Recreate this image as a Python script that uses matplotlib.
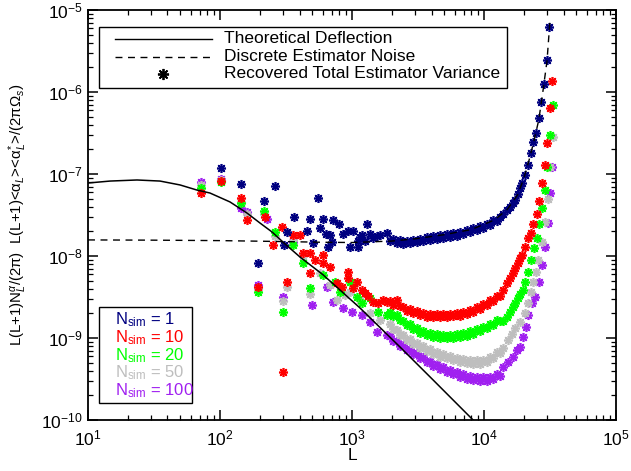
import matplotlib
matplotlib.use('Agg')
import matplotlib.pyplot as plt
from matplotlib.lines import Line2D
from matplotlib.patches import Rectangle
from matplotlib.ticker import NullFormatter

plt.rcParams['font.family'] = ['Liberation Sans', 'DejaVu Sans']
plt.rcParams['mathtext.fontset'] = 'custom'
plt.rcParams['mathtext.rm'] = 'Liberation Sans'
plt.rcParams['mathtext.it'] = 'Liberation Sans:italic'
plt.rcParams['mathtext.sf'] = 'Liberation Sans'

# theory curve and discrete noise
theory_L = [10, 14.7, 23.5, 35.1, 49.8, 66.6, 83.9, 119, 160, 201, 248, 311, 404, 603, 1150, 2310, 4110, 8260, 9330]
theory_val = [7.76e-8, 8.2e-8, 8.45e-8, 8.2e-8, 7.35e-8, 6.38e-8, 5.86e-8, 4.56e-8, 3.34e-8, 2.52e-8,
              1.96e-8, 1.40e-8, 9.7e-9, 5.9e-9, 2.32e-9, 7.76e-10, 3.08e-10, 1.0e-10, 8.2e-11]

noise_L = [10, 30, 100, 300, 600, 1000, 2000, 3000, 5000, 8000, 12000, 15000, 18000, 20000,
           22000, 24000, 26000, 28000, 30000, 31600]
noise_val = [1.57e-8, 1.56e-8, 1.54e-8, 1.50e-8, 1.47e-8, 1.46e-8, 1.52e-8, 1.62e-8, 1.82e-8, 2.1e-8,
             2.75e-8, 3.7e-8, 5.6e-8, 8.8e-8, 1.5e-7, 2.6e-7, 4.6e-7, 1.05e-6, 2.4e-6, 7.5e-6]

# shared L bins of the smooth middle part
band_L = [1940, 2050, 2190, 2310, 2440, 2610, 2750, 2900, 3100, 3270, 3450, 3700, 3900, 4110, 4400,
          4640, 4890, 5250, 5520, 5820, 6240, 6580, 6930, 7430, 7830, 8260, 8850, 9330, 9820,
          10540, 11100, 11700, 12540, 13200]

# N_sim = 1
n1_lo_L = [102, 144, 194, 215, 261, 305, 322, 364, 456, 481, 507, 553, 572, 603, 635, 658, 681, 705,
           718, 797, 855, 934, 967, 1018, 1110, 1110, 1150, 1191, 1254, 1300, 1368, 1442, 1545, 1629, 1841]
n1_lo = [1.18e-7, 7.55e-8, 8.2e-9, 4.69e-8, 7.14e-8, 1.36e-8, 1.96e-8, 2.99e-8, 2.02e-8, 2.83e-8,
         1.44e-8, 5.1e-8, 2.19e-8, 2.83e-8, 1.85e-8, 1.29e-8, 1.80e-8, 1.48e-8, 2.75e-8, 2.45e-8,
         1.85e-8, 2.02e-8, 1.29e-8, 2.02e-8, 1.52e-8, 1.29e-8, 1.71e-8, 1.80e-8, 1.52e-8, 2.45e-8,
         1.85e-8, 1.66e-8, 1.75e-8, 1.80e-8, 1.91e-8]
n1_band = [1.52e-8, 1.61e-8, 1.44e-8, 1.57e-8, 1.40e-8, 1.52e-8, 1.44e-8, 1.57e-8, 1.48e-8, 1.61e-8,
           1.52e-8, 1.71e-8, 1.57e-8, 1.75e-8, 1.61e-8, 1.80e-8, 1.66e-8, 1.85e-8, 1.71e-8, 1.91e-8,
           1.75e-8, 1.96e-8, 1.85e-8, 2.07e-8, 1.96e-8, 2.19e-8, 2.07e-8, 2.32e-8, 2.19e-8, 2.45e-8,
           2.39e-8, 2.75e-8, 2.67e-8, 2.99e-8]
n1_hi_L = [13900, 14900, 15700, 16600, 17200, 18100, 18750, 19400, 20450, 21500, 22700, 23500,
           24800, 26100, 27000, 28500, 30000, 31100]
n1_hi = [3.25e-8, 3.64e-8, 3.96e-8, 4.43e-8, 4.82e-8, 5.7e-8, 6.75e-8, 7.76e-8, 9.7e-8, 1.29e-7,
         1.80e-7, 2.45e-7, 3.16e-7, 4.82e-7, 7.55e-7, 1.25e-6, 2.45e-6, 6.2e-6]

# N_sim = 10
n10_lo_L = [72, 102, 144, 160, 194, 219, 252, 295, 300, 322, 357, 404, 425, 481, 481, 525, 603, 603,
            681, 769, 840, 934, 934, 1018, 1092, 1191, 1254, 1322, 1442, 1573, 1718, 1841]
n10_lo = [5.86e-8, 8.2e-8, 5.1e-8, 2.75e-8, 4.19e-9, 2.99e-8, 1.36e-8, 2.26e-8, 3.85e-10, 4.82e-9,
          1.80e-8, 1.80e-8, 1.09e-8, 1.09e-8, 6.2e-9, 9.0e-9, 1.03e-8, 8.2e-9, 7.35e-9, 4.69e-9,
          4.19e-9, 6.38e-9, 5.4e-9, 4.07e-9, 4.82e-9, 3.85e-9, 3.54e-9, 3.25e-9, 2.75e-9, 2.67e-9,
          2.91e-9, 2.75e-9]
n10_band = [2.83e-9, 2.52e-9, 2.91e-9, 2.45e-9, 2.39e-9, 2.13e-9, 2.26e-9, 2.02e-9, 2.13e-9, 1.91e-9,
            2.02e-9, 1.80e-9, 1.96e-9, 1.80e-9, 1.96e-9, 1.80e-9, 1.96e-9, 1.80e-9, 1.96e-9, 1.85e-9,
            2.02e-9, 1.85e-9, 2.07e-9, 1.96e-9, 2.19e-9, 2.07e-9, 2.39e-9, 2.26e-9, 2.60e-9, 2.52e-9,
            2.91e-9, 2.83e-9, 3.25e-9, 3.25e-9]
n10_hi_L = [13900, 14900, 15700, 16600, 17200, 18100, 18750, 19400, 20450, 21500, 22700, 23500,
            25200, 26100, 27500, 29000, 30000, 31600, 32700]
n10_hi = [3.85e-9, 4.69e-9, 5.4e-9, 6.2e-9, 7.14e-9, 8.2e-9, 9.45e-9, 1.03e-8, 1.29e-8, 1.66e-8,
          1.91e-8, 2.45e-8, 3.25e-8, 4.7e-8, 7.76e-8, 1.29e-7, 2.39e-7, 6.38e-7, 1.36e-6]

# N_sim = 20
n20_lo_L = [72, 102, 144, 194, 215, 261, 300, 357, 425, 481, 603, 743, 811, 967, 1092, 1191, 1368, 1573, 1841]
n20_lo = [6.75e-8, 7.98e-8, 4.43e-8, 3.64e-9, 3.54e-8, 1.96e-8, 2.07e-9, 1.36e-8, 8.2e-9, 4.07e-9,
          5.86e-9, 4.82e-9, 3.64e-9, 4.82e-9, 3.16e-9, 2.67e-9, 3.08e-9, 2.07e-9, 1.91e-9]
n20_band = [2.07e-9, 1.85e-9, 1.91e-9, 1.66e-9, 1.61e-9, 1.44e-9, 1.48e-9, 1.29e-9, 1.32e-9, 1.15e-9,
            1.22e-9, 1.09e-9, 1.15e-9, 1.03e-9, 1.12e-9, 1.0e-9, 1.09e-9, 1.0e-9, 1.09e-9, 1.0e-9,
            1.12e-9, 1.03e-9, 1.15e-9, 1.06e-9, 1.22e-9, 1.12e-9, 1.29e-9, 1.22e-9, 1.36e-9, 1.32e-9,
            1.48e-9, 1.44e-9, 1.66e-9, 1.61e-9]
n20_hi_L = [13900, 14900, 15700, 16600, 17200, 18100, 18750, 19750, 20450, 21500, 22700, 23900,
            25200, 26100, 27500, 29000, 30000, 31600, 33300]
n20_hi = [1.61e-9, 1.80e-9, 2.07e-9, 2.39e-9, 2.67e-9, 3.08e-9, 3.44e-9, 3.85e-9, 4.82e-9, 6.38e-9,
          8.9e-9, 1.25e-8, 1.66e-8, 2.45e-8, 3.85e-8, 6.38e-8, 1.22e-7, 2.99e-7, 6.94e-7]

# N_sim = 50
n50_lo_L = [72, 102, 144, 160, 194, 215, 261, 300, 322, 357, 425, 481, 572, 681, 769, 885, 967, 1150, 1368, 1629]
n50_lo = [7.35e-8, 8.45e-8, 4.56e-8, 3.25e-8, 4.0e-9, 3.25e-8, 1.75e-8, 2.83e-9, 4.19e-9, 1.57e-8,
          1.0e-8, 3.44e-9, 6.2e-9, 4.43e-9, 2.91e-9, 3.34e-9, 3.64e-9, 2.91e-9, 2.02e-9, 1.66e-9]
n50_band = [1.48e-9, 1.29e-9, 1.25e-9, 1.09e-9, 1.09e-9, 9.45e-10, 9.72e-10, 8.45e-10, 8.69e-10, 7.55e-10,
            7.98e-10, 6.94e-10, 7.35e-10, 6.38e-10, 6.75e-10, 5.86e-10, 6.38e-10, 5.7e-10, 6.03e-10, 5.4e-10,
            5.7e-10, 5.1e-10, 5.54e-10, 4.95e-10, 5.4e-10, 4.82e-10, 5.4e-10, 4.82e-10, 5.4e-10, 5.1e-10,
            5.86e-10, 5.7e-10, 6.75e-10, 6.56e-10]
n50_hi_L = [13900, 15200, 16300, 17200, 18750, 20450, 21500, 22700, 23500, 24800, 25700, 27500,
            29000, 30500, 31600, 33300]
n50_hi = [7.55e-10, 9.45e-10, 1.12e-9, 1.32e-9, 1.57e-9, 2.02e-9, 2.67e-9, 3.64e-9, 4.82e-9, 6.38e-9,
          8.9e-9, 1.48e-8, 2.6e-8, 4.95e-8, 1.22e-7, 2.83e-7]

# N_sim = 100
n100_lo_L = [72, 102, 144, 160, 194, 227, 300, 357, 498, 647, 718, 855, 1000, 1191, 1368, 1545, 1841]
n100_lo = [7.98e-8, 8.6e-8, 3.85e-8, 3.44e-8, 4.43e-9, 2.83e-8, 3.16e-9, 1.48e-8, 2.52e-9, 4.19e-9,
           2.75e-9, 2.32e-9, 2.07e-9, 1.91e-9, 1.57e-9, 1.18e-9, 1.09e-9]
n100_band = [1.06e-9, 9.19e-10, 9.19e-10, 7.98e-10, 8.22e-10, 7.14e-10, 7.35e-10, 6.38e-10, 6.56e-10, 5.7e-10,
             5.86e-10, 5.1e-10, 5.25e-10, 4.56e-10, 4.82e-10, 4.19e-10, 4.43e-10, 3.85e-10, 4.07e-10, 3.64e-10,
             3.85e-10, 3.34e-10, 3.64e-10, 3.16e-10, 3.44e-10, 3.08e-10, 3.34e-10, 2.99e-10, 3.34e-10, 2.99e-10,
             3.34e-10, 3.16e-10, 3.64e-10, 3.44e-10]
n100_hi_L = [13900, 15200, 16600, 17800, 18750, 19750, 20800, 21500, 23100, 24300, 26100, 27500,
             29000, 30500, 31600, 32700]
n100_hi = [4.43e-10, 5.1e-10, 5.86e-10, 7.14e-10, 7.76e-10, 1.03e-9, 1.36e-9, 1.91e-9, 2.67e-9, 3.16e-9,
           4.82e-9, 7.76e-9, 1.29e-8, 2.52e-8, 5.86e-8, 1.22e-7]

sim_labels = ['1', '10', '20', '50', '100']
sim_colors = ['#000080', '#ff0000', '#00ff00', '#bebebe', '#a020f0']
key_labels = ['Theoretical Deflection', 'Discrete Estimator Noise', 'Recovered Total Estimator Variance']

series = [
    (n1_lo_L + band_L + n1_hi_L, n1_lo + n1_band + n1_hi),
    (n10_lo_L + band_L + n10_hi_L, n10_lo + n10_band + n10_hi),
    (n20_lo_L + band_L + n20_hi_L, n20_lo + n20_band + n20_hi),
    (n50_lo_L + band_L + n50_hi_L, n50_lo + n50_band + n50_hi),
    (n100_lo_L + band_L + n100_hi_L, n100_lo + n100_band + n100_hi),
]

star = (8, 2, 0)

fig = plt.figure(figsize=(6.31, 4.71), dpi=100)
ax = fig.add_axes([0.1395, 0.1083, 0.8368, 0.8705])

# draw largest N_sim first so N_sim = 1 sits on top
for (lx, ly), col in reversed(list(zip(series, sim_colors))):
    ax.plot(lx, ly, linestyle='none', marker=star, ms=6.5, mew=1.2, mec=col, mfc=col, zorder=2)

ax.plot(theory_L, theory_val, color='black', lw=1.1, zorder=3)
ax.plot(noise_L, noise_val, color='black', lw=1.0, dashes=(5, 4), zorder=3)

ax.set_xscale('log')
ax.set_yscale('log')
ax.set_xlim(10, 1e5)
ax.set_ylim(1e-10, 1e-5)
ax.xaxis.set_minor_formatter(NullFormatter())
ax.yaxis.set_minor_formatter(NullFormatter())

for s in ax.spines.values():
    s.set_linewidth(1.3)
ax.tick_params(which='both', direction='in', top=True, right=True, labelsize=12.5)
ax.tick_params(which='major', length=7, width=1.1)
ax.tick_params(which='minor', length=3.5, width=0.9)
ax.tick_params(axis='x', pad=6)
ax.tick_params(axis='y', pad=4)

ax.set_xlabel('L', fontsize=12.5, labelpad=0)
ax.yaxis.set_label_coords(-0.112, 0.5)
ax.set_ylabel('L(L+1)N$^{α}_{L}$/(2π)  L(L+1)<α$_{L}$><α$^{*}_{L}$>/(2πΩ$_{s}$)', fontsize=10.8)

# line/symbol key in a plain box (top left)
tr = ax.transAxes
ax.add_patch(Rectangle((0.0208, 0.8098), 0.7727, 0.1488, transform=tr, facecolor='white',
                       edgecolor='black', lw=1.0, zorder=4))
key_y = [0.9293, 0.8854, 0.8439]
ax.add_line(Line2D([0.0511, 0.2348], [key_y[0]] * 2, transform=tr, color='black', lw=1.0, zorder=5))
ax.add_line(Line2D([0.0511, 0.2348], [key_y[1]] * 2, transform=tr, color='black', lw=1.0,
                   dashes=(5, 4), zorder=5))
ax.add_line(Line2D([0.142], [key_y[2]], transform=tr, linestyle='none', marker=star, ms=8,
                   mew=1.3, color='black', zorder=5))
for y, txt in zip(key_y, key_labels):
    ax.text(0.2576, y, txt, fontsize=12.5, transform=tr, ha='left', va='center', zorder=5)

# N_sim key: coloured text in a plain box (bottom left)
ax.add_patch(Rectangle((0.0208, 0.0415), 0.176, 0.234, transform=tr, facecolor='white',
                       edgecolor='black', lw=1.0, zorder=4))
for i, (s, col) in enumerate(zip(sim_labels, sim_colors)):
    ax.text(0.0515, 0.2440 - i * 0.0432, 'N$_{\\rm sim}$ = ' + s, color=col, fontsize=12,
            transform=tr, ha='left', va='center', zorder=5)

fig.savefig('out.png', dpi=100)
